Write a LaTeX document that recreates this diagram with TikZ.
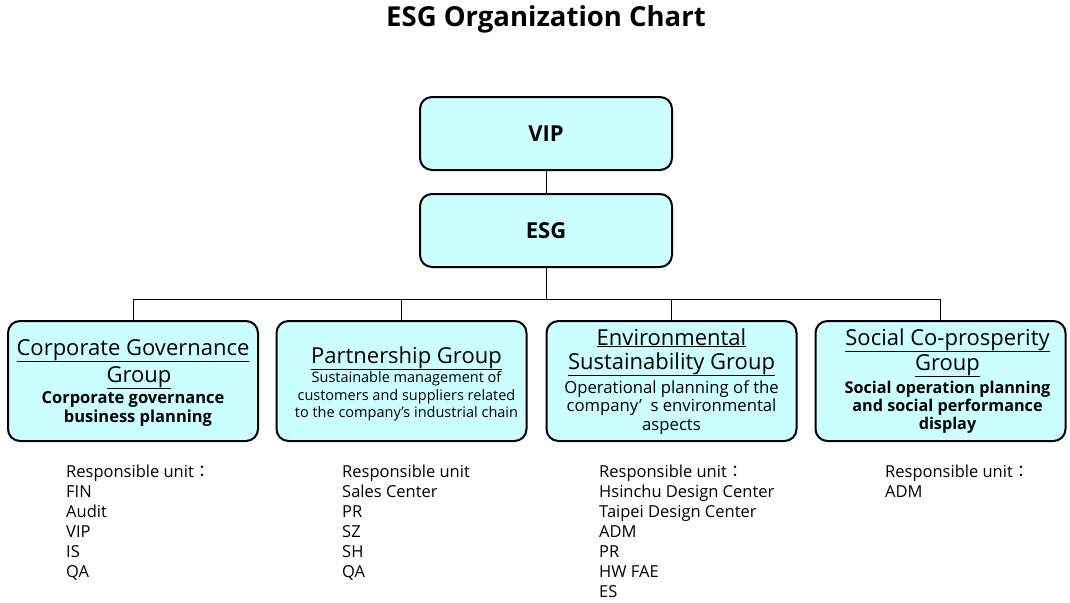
\documentclass[tikz,border=0pt]{standalone}
\usepackage{fontspec}
\setmainfont{Open Sans}
\newfontfamily\cjk{Noto Sans CJK TC}
\definecolor{boxfill}{HTML}{CCFFFF}

% full-width colon after "Responsible unit"
\newcommand{\fwcolon}{{\cjk ：}}
\newcommand{\grptitle}{\fontsize{22}{24}\selectfont}
% keep the baselines exactly as set
\newcommand{\fixedlines}{\lineskiplimit -100pt\relax}
% struts fixing the top and bottom of the text block
\newcommand{\tophgt}[1]{\rule{0pt}{#1}}
\newcommand{\botdep}[1]{\rule[-#1]{0pt}{#1}}

\begin{document}
\begin{tikzpicture}[x=1pt,y=-1pt,
  box/.style={draw, line width=2pt, rounded corners=12pt, fill=boxfill,
    minimum width=252pt, minimum height=73pt, font=\fontsize{22}{24}\selectfont\bfseries},
  grp/.style={draw, line width=2pt, rounded corners=12pt, fill=boxfill,
    minimum width=250pt, minimum height=120pt, text width=246pt,
    align=flush center, inner sep=2pt},
  link/.style={line width=1pt},
  units/.style={anchor=north west, align=left, inner sep=0pt,
    font=\fontsize{16.5}{20}\selectfont}]
\useasboundingbox (0,0) rectangle (1070,602);

\node[anchor=base, font=\fontsize{27.5}{30}\selectfont\bfseries] (title) at (546,27) {ESG Organization Chart};

% top of the chart
\node[box] (vip) at (546,133.5) {VIP};
\node[box] (esg) at (546,230.5) {ESG};
\draw[link] (vip) -- (esg);

% the four groups
\node[grp, font=\fontsize{16.5}{19}\selectfont\fixedlines] (cg) at (133,381)
  {\tophgt{21pt}{\grptitle\underline{Corporate Governance}}\\[8pt]
   \hspace*{12pt}{\grptitle\underline{Group}}\\[2pt]
   \textbf{Corporate governance}\\
   \hspace*{10pt}\textbf{business planning}\botdep{6pt}};
\node[grp, font=\fontsize{14.5}{17.5}\selectfont\fixedlines] (pg) at (401.5,381)
  {\tophgt{24pt}\hspace*{10pt}{\grptitle\underline{Partnership Group}}\\[2pt]
   \hspace*{10pt}Sustainable management of\\
   \hspace*{10pt}customers and suppliers related\\
   \hspace*{10pt}to the company's industrial chain\botdep{5.5pt}};
\node[grp, font=\fontsize{16.7}{18.5}\selectfont\fixedlines] (eg) at (671.5,381)
  {\tophgt{19pt}{\grptitle\underline{Environmental}}\\[5.5pt]
   {\grptitle\underline{Sustainability Group}}\\[5.5pt]
   Operational planning of the\\
   company’\ \ s environmental\\
   aspects\botdep{6pt}};
\node[grp, font=\fontsize{16.2}{18}\selectfont\fixedlines] (sg) at (940.5,381)
  {\tophgt{18pt}\hspace*{14pt}{\grptitle\underline{Social Co-prosperity}}\\[7pt]
   \hspace*{14pt}{\grptitle\underline{Group}}\\[5pt]
   \hspace*{14pt}\textbf{Social operation planning}\\
   \hspace*{14pt}\textbf{and social performance}\\
   \hspace*{14pt}\textbf{display}\botdep{6pt}};

% bus line from ESG down to the groups
\draw[link] (esg.south) -- ++(0,31) coordinate (bus);
\draw[link] (cg.north |- bus) -- (sg.north |- bus);
\foreach \g in {cg, pg, eg, sg}{
    \draw[link] (\g.north |- bus) -- (\g.north);
}

% responsible units
\node[units] (cgu) at (66,465) {Responsible unit\fwcolon\\ FIN\\ Audit\\ VIP\\ IS\\ QA};
\node[units] (pgu) at (342,465) {Responsible unit\\ Sales Center\\ PR\\ SZ\\ SH\\ QA};
\node[units] (egu) at (599,465) {Responsible unit\fwcolon\\ Hsinchu Design Center\\ Taipei Design Center\\ ADM\\ PR\\ HW FAE\\ ES};
\node[units] (sgu) at (885,465) {Responsible unit\fwcolon\\ ADM};
\end{tikzpicture}
\end{document}
